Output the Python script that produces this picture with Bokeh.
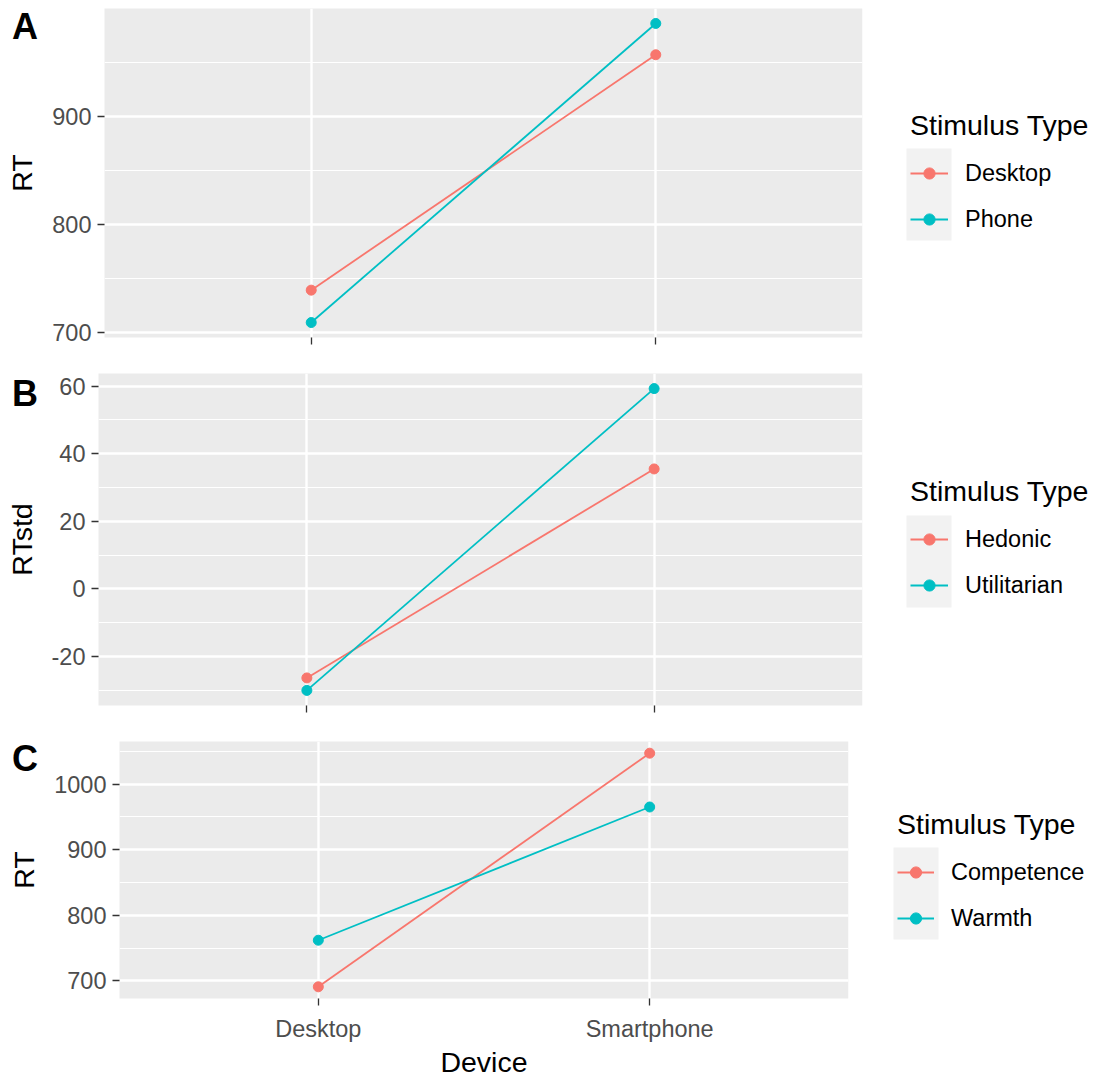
from bokeh.plotting import figure
from bokeh.models import (FactorRange, Range1d, FixedTicker, Legend, LegendItem,
                          PrintfTickFormatter, Div, BoxAnnotation, CustomLabelingPolicy)
from bokeh.embed import file_html
from bokeh.resources import INLINE

# ---------------- data ----------------
devices = ["Desktop", "Smartphone"]

a_series = ["Desktop", "Phone"]
a_desktop = [739, 957]
a_phone = [709, 986]

b_series = ["Hedonic", "Utilitarian"]
b_hedonic = [-26.4, 35.5]
b_utilitarian = [-30.1, 59.3]

c_series = ["Competence", "Warmth"]
c_competence = [691, 1047]
c_warmth = [762, 965]

a_ticks = [700, 800, 900]
a_minor = [750, 850, 950]
b_ticks = [-20, 0, 20, 40, 60]
b_minor = [-30, -10, 10, 30, 50]
c_ticks = [700, 800, 900, 1000]
c_minor = [750, 850, 950, 1050]

colors = ["#F8766D", "#00BFC4"]
FONT = "Liberation Sans"


def y_limits(values):
    allv = [v for s in values for v in s]
    lo, hi = min(allv), max(allv)
    pad = 0.05 * (hi - lo)
    return lo - pad, hi + pad


def make_panel(ylabel, values, ticks, minor, borders, show_x):
    left, right, top, bottom = borders
    lo, hi = y_limits(values)
    p = figure(width=1099, height=360, output_backend="svg", toolbar_location=None,
               x_range=FactorRange(factors=devices, range_padding=0.1,
                                   range_padding_units="percent"),
               y_range=Range1d(lo, hi),
               min_border_left=left, min_border_right=right,
               min_border_top=top, min_border_bottom=bottom)
    p.background_fill_color = "#EBEBEB"
    p.border_fill_color = "white"
    p.outline_line_color = None

    p.yaxis.ticker = FixedTicker(ticks=ticks, minor_ticks=minor)
    p.yaxis.formatter = PrintfTickFormatter(format="%d")
    for ax in (p.xaxis[0], p.yaxis[0]):
        ax.axis_line_color = None
        ax.major_tick_line_color = "#333333"
        ax.major_tick_line_width = 1.3
        ax.major_tick_out = 7
        ax.major_tick_in = 0
        ax.minor_tick_line_color = None
        ax.major_label_text_font = FONT
        ax.major_label_text_font_size = "23.5px"
        ax.major_label_text_color = "#4D4D4D"
        ax.major_label_standoff = 6
        ax.axis_label_text_font = FONT
        ax.axis_label_text_font_size = "28.5px"
        ax.axis_label_text_font_style = "normal"
        ax.axis_label_text_color = "black"
    p.yaxis.axis_label = ylabel
    p.yaxis.axis_label_standoff = 11
    if show_x:
        p.xaxis.axis_label = "Device"
        p.xaxis.major_label_standoff = 10
        p.xaxis.axis_label_standoff = 1
    else:
        # tick marks only, no tick labels (as in the upper panels of the reference)
        p.xaxis.major_label_text_font_size = "0px"
        p.xaxis.major_label_policy = CustomLabelingPolicy(code="""
            for (const i of Array.from(indices)) { indices.unset(i) }
            return indices
        """)
        p.xaxis.major_label_standoff = 0

    p.xgrid.grid_line_color = "white"
    p.xgrid.grid_line_width = 2.4
    p.ygrid.grid_line_color = "white"
    p.ygrid.grid_line_width = 2.4
    p.ygrid.minor_grid_line_color = "white"
    p.ygrid.minor_grid_line_width = 1.2

    for vals, col in zip(values, colors):
        p.line(devices, vals, line_color=col, line_width=1.8)
        p.scatter(devices, vals, size=10, fill_color=col, line_color=col)
    return p


def make_legend(names, values, fig_width, page_left, page_top, loc, glyph_w, key_box):
    """A small figure that only carries the legend; its series renderers are hidden."""
    lo, hi = y_limits(values)
    q = figure(width=fig_width, height=360, output_backend="svg", toolbar_location=None,
               x_range=FactorRange(factors=devices), y_range=Range1d(lo, hi),
               x_axis_type=None, y_axis_type=None,
               min_border_left=0, min_border_right=0, min_border_top=0, min_border_bottom=0,
               styles={"position": "absolute", "left": f"{page_left}px",
                       "top": f"{page_top}px"})
    q.grid.visible = False
    q.outline_line_color = None
    q.background_fill_color = "white"
    q.border_fill_color = "white"

    q.add_layout(BoxAnnotation(left=key_box[0], right=key_box[1],
                               bottom=key_box[2], top=key_box[3],
                               left_units="screen", right_units="screen",
                               bottom_units="screen", top_units="screen",
                               fill_color="#F2F2F2", fill_alpha=1.0, line_color=None,
                               level="underlay"))

    items = []
    for name, vals, col in zip(names, values, colors):
        lr = q.line(devices, vals, line_color=col, line_width=1.8, visible=False)
        sr = q.scatter(devices, vals, size=10, fill_color=col, line_color=col, visible=False)
        items.append(LegendItem(label=name, renderers=[lr, sr]))
    leg = Legend(items=items, title="Stimulus Type", location=loc)
    leg.title_text_font = FONT
    leg.title_text_font_size = "28.5px"
    leg.title_text_font_style = "normal"
    leg.title_text_color = "black"
    leg.title_standoff = 17
    leg.label_text_font = FONT
    leg.label_text_font_size = "23.5px"
    leg.label_text_color = "black"
    leg.glyph_width = glyph_w
    leg.glyph_height = 28
    leg.label_height = 28
    leg.label_standoff = 17
    leg.spacing = 18
    leg.padding = 0
    leg.margin = 0
    leg.border_line_color = None
    leg.background_fill_alpha = 0
    leg.inactive_fill_alpha = 0
    q.add_layout(leg)
    return q


def letter(text, top):
    return Div(text=text,
               styles={"position": "absolute", "left": "12px", "top": f"{top}px",
                       "font-family": FONT, "font-size": "36px", "font-weight": "bold",
                       "line-height": "36px", "color": "black", "margin": "0",
                       "padding": "0"})


pA = make_panel("RT", [a_desktop, a_phone], a_ticks, a_minor, (104, 237, 8, 23), False)
pB = make_panel("RTstd", [b_hedonic, b_utilitarian], b_ticks, b_minor, (98, 237, 13, 15), False)
pC = make_panel("RT", [c_competence, c_warmth], c_ticks, c_minor, (119, 251, 21, 77), True)

lA = make_legend(a_series, [a_desktop, a_phone], 237, 862, 0, (48, 127), 38,
                 (44, 89, 120, 212))
lB = make_legend(b_series, [b_hedonic, b_utilitarian], 237, 862, 360, (48, 121), 38,
                 (44, 89, 113, 205))
lC = make_legend(c_series, [c_competence, c_warmth], 251, 848, 720, (49, 148), 37,
                 (45, 90, 141, 233))

roots = [pA, pB, pC, lA, lB, lC, letter("A", 9), letter("B", 376), letter("C", 741)]
open("out.html", "w").write(file_html(roots, INLINE))
